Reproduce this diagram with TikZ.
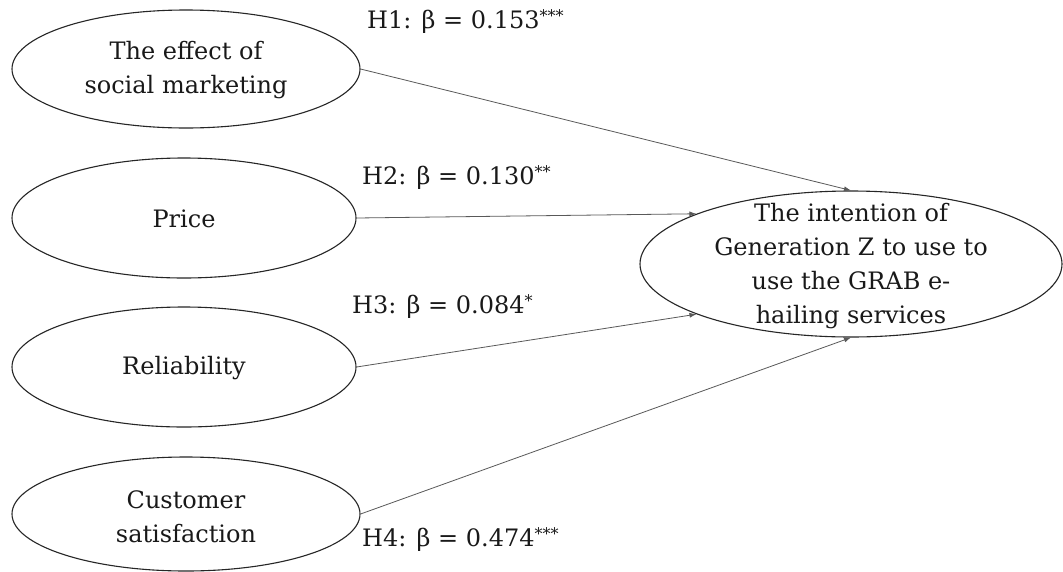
\documentclass[tikz,border=0pt]{standalone}
\usepackage{fontspec}
\setmainfont{DejaVu Serif}
\usetikzlibrary{shapes.geometric,arrows.meta}
\newcommand{\sig}[1]{\raisebox{7pt}{\fontsize{16}{16}\selectfont #1}}
\begin{document}
\begin{tikzpicture}[x=1pt,y=-1pt,
  oval/.style={draw=black!85, line width=1.1pt, ellipse, inner sep=0pt},
  txt/.style={align=center, font=\fontsize{24}{34}\selectfont, text=black!90, inner sep=0pt},
  lbl/.style={anchor=west, font=\fontsize{24}{30}\selectfont, text=black!90, inner sep=0pt},
  link/.style={draw=black!65, line width=0.8pt, -{Latex[length=7pt,width=5pt]}}]
\useasboundingbox[fill=white] (0,0) rectangle (1063,571);
% source ellipses
\node[oval, minimum width=348pt, minimum height=118pt] (e1) at (186,69) {};
\node[oval, minimum width=344pt, minimum height=120pt] (e2) at (184,218) {};
\node[oval, minimum width=344pt, minimum height=120pt] (e3) at (184,367) {};
\node[oval, minimum width=348pt, minimum height=114pt] (e4) at (186,514) {};
% target ellipse
\node[oval, minimum width=422pt, minimum height=146pt] (t) at (851,264) {};
% texts
\node[txt] (e1t) at (186,70) {The effect of\\social marketing};
\node[txt] (e2t) at (184,219) {Price};
\node[txt] (e3t) at (184,368) {Reliability};
\node[txt] (e4t) at (186,517) {Customer\\satisfaction};
\node[txt] (tt) at (851,266) {The intention of\\Generation Z to use to\\use the GRAB e-\\hailing services};
% connectors
\draw[link] (e1.east) -- (t.north);
\draw[link] (e2.east) -- (t.162);
\draw[link] (e3.east) -- (t.198);
\draw[link] (e4.east) -- (t.south);
% labels
\node[lbl] (h1) at (367,22) {H1: β = 0.153\sig{***}};
\node[lbl] (h2) at (362,178) {H2: β = 0.130\sig{**}};
\node[lbl] (h3) at (352,307) {H3: β = 0.084\sig{*}};
\node[lbl] (h4) at (362,540) {H4: β = 0.474\sig{***}};
\end{tikzpicture}
\end{document}
